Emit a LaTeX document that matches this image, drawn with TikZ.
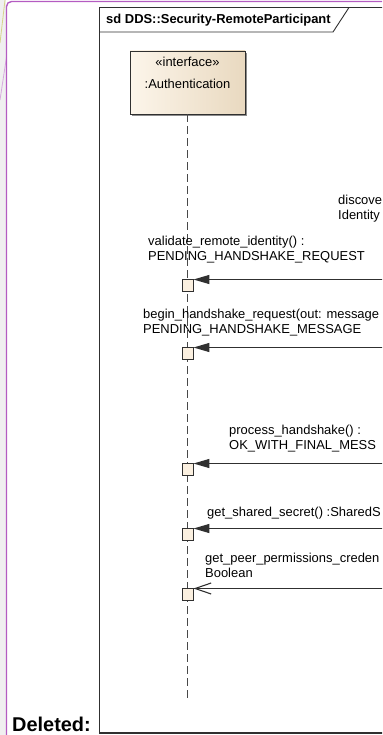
\documentclass[tikz,border=0pt]{standalone}
\usepackage{fontspec}
\setmainfont{Liberation Sans}
\usetikzlibrary{arrows.meta,shadows}
\definecolor{pagegray}{RGB}{240,240,240}
\definecolor{commentpurple}{RGB}{180,92,194}
\definecolor{commentyellow}{RGB}{214,212,140}
\definecolor{commentpale}{RGB}{214,170,222}
\definecolor{linegray}{RGB}{48,48,48}
\definecolor{lifegray}{RGB}{72,72,72}
\definecolor{headleft}{RGB}{252,245,234}
\definecolor{headright}{RGB}{233,217,192}
\definecolor{actfill}{RGB}{251,240,224}
\begin{document}
\begin{tikzpicture}[x=1bp, y=-1bp]
  % Define frame, lifeline and message styles
  \tikzstyle{framedraw} = [draw=linegray, line width=0.9bp]
  \tikzstyle{headbox} = [draw=linegray, line width=0.9bp, rectangle,
  left color=headleft, right color=headright, minimum width=115bp,
  minimum height=63bp, inner sep=0pt,
  drop shadow={shadow xshift=2bp, shadow yshift=-2bp, fill=black, opacity=.45}]
  \tikzstyle{headtext} = [font=\fontsize{13}{15}\selectfont, align=center,
  inner sep=0pt, anchor=north]
  \tikzstyle{lifeline} = [draw=lifegray, line width=1.5bp, dash pattern=on 8bp off 4bp]
  \tikzstyle{actbox} = [draw=linegray, line width=0.9bp, fill=actfill,
  minimum width=11bp, minimum height=12bp, inner sep=0pt, anchor=north]
  \tikzstyle{msgtext} = [font=\fontsize{13}{15}\selectfont, align=left,
  inner sep=0pt, anchor=west]
  \tikzstyle{msgsync} = [draw=linegray, line width=1.3bp,
  -{Triangle[length=16bp, width=9bp]}]
  \tikzstyle{msgreply} = [draw=linegray, line width=1.1bp,
  -{Straight Barb[length=16bp, width=11bp]}]

  \useasboundingbox (0,0) rectangle (382,735);
  \clip (0,0) rectangle (382,735);

  % page margin and comment balloon lines
  \fill[pagegray] (0,0) rectangle (5.5,735);
  \draw[commentyellow, line width=0.8bp] (5,0) -- (0,43);
  \draw[commentpale, line width=0.8bp] (6.5,57) -- (0,100);
  \draw[commentpurple, line width=1.4bp, rounded corners=5bp]
    (6.5,740) -- (6.5,1.5) -- (390,1.5);

  % diagram frame
  \draw[framedraw] (99,733) -- (99,7.5) -- (390,7.5);
  \draw[framedraw, line width=1.3bp] (99,733) -- (390,733);
  \draw[framedraw] (99,32) -- (333,32) -- (349,7.5);
  \node[font=\bfseries\fontsize{13}{15}\selectfont, inner sep=0pt, anchor=west]
    (title) at (106,20) {sd DDS::Security-RemoteParticipant};

  % lifeline head
  \node[headbox] (auth) at (187.5,82.5) {};
  \node[headtext] (authname) at (187.5,57) {«interface»\\[6.5bp]:Authentication};
  \coordinate (authend) at (187.5,702);
  \draw[lifeline] (auth.south) -- (authend);

  % activations
  \node[actbox] (act1) at (187.5,278.5) {};
  \node[actbox] (act2) at (187.5,346.5) {};
  \node[actbox] (act3) at (187.5,462.5) {};
  \node[actbox] (act4) at (187.5,527.5) {};
  \node[actbox] (act5) at (187.5,587.5) {};

  % messages from the participant beyond the right edge
  \coordinate (src1) at (392,279.5);
  \coordinate (src2) at (392,347.5);
  \coordinate (src3) at (392,463.5);
  \coordinate (src4) at (392,528.5);
  \coordinate (src5) at (392,588.5);
  \draw[msgsync] (src1) -- (src1 -| act1.east);
  \draw[msgsync] (src2) -- (src2 -| act2.east);
  \draw[msgsync] (src3) -- (src3 -| act3.east);
  \draw[msgsync] (src4) -- (src4 -| act4.east);
  \draw[msgreply] (src5) -- (src5 -| act5.east);

  % message labels
  \node[msgtext] (lbldisc) at (338,208.5) {discove\\Identity};
  \node[msgtext] (lblvalid) at (148,249.5) {validate\_remote\_identity() :\\PENDING\_HANDSHAKE\_REQUEST};
  \node[msgtext] (lblbegin) at (143,322.5) {begin\_handshake\_request(out: message\\PENDING\_HANDSHAKE\_MESSAGE};
  \node[msgtext] (lblproc) at (229,438.5) {process\_handshake() :\\OK\_WITH\_FINAL\_MESS};
  \node[msgtext] (lblsecret) at (207,513) {get\_shared\_secret() :SharedS};
  \node[msgtext] (lblperm) at (205,565) {get\_peer\_permissions\_creden\\Boolean};

  \node[font=\bfseries\fontsize{20}{24}\selectfont, inner sep=0pt, anchor=base west]
    (deleted) at (12,731) {Deleted:};
\end{tikzpicture}
\end{document}
